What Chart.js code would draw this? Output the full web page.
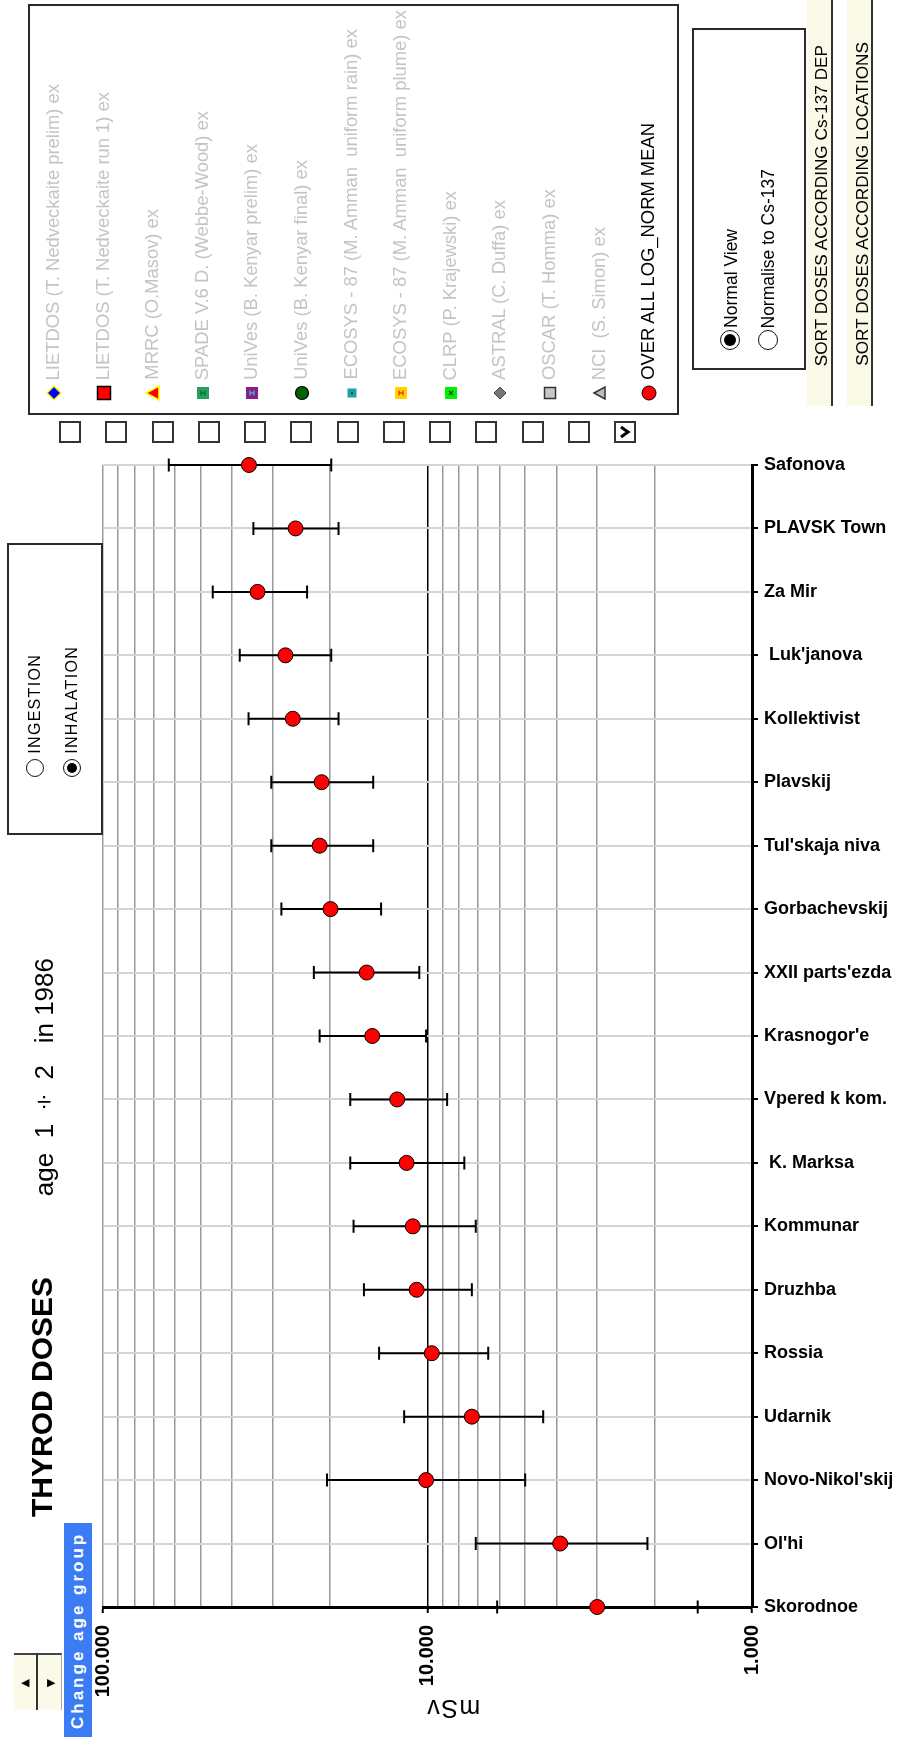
<!DOCTYPE html>
<html>
<head>
<meta charset="utf-8">
<script src="https://cdn.jsdelivr.net/npm/chart.js@4"></script>
<style>
  html, body { margin: 0; padding: 0; background: #fff; }
  #page { position: relative; width: 904px; height: 1742px; overflow: hidden;
          font-family: "Liberation Sans", Arial, sans-serif; }
  #chart { position: absolute; left: 0; top: 0; }
  .up { position: absolute; writing-mode: vertical-rl; transform: rotate(180deg);
        white-space: pre; text-align: start; }
  .box { position: absolute; box-sizing: border-box; border: 2px solid #2a2a2a; }
  .radio { position: absolute; box-sizing: border-box; border: 1.5px solid #111;
           border-radius: 50%; background: #fff; }
  .radio.on::after { content: ""; position: absolute; left: 3px; top: 3px; right: 3px; bottom: 3px;
                     border-radius: 50%; background: #000; }
  .chk { position: absolute; box-sizing: border-box; width: 22px; height: 22px;
         border: 2px solid #333; background: #fff; }
  .btn { position: absolute; top: 0; width: 26px; height: 406px; box-sizing: border-box;
         background: #fbf9e7; border-right: 2px solid #333; }
  .mk { position: absolute; width: 18px; height: 18px; }
</style>
</head>
<body>
<div id="page">
  <canvas id="chart" width="904" height="1742"></canvas>

  <!-- legend box -->
  <div class="box" style="left:28px; top:4px; width:651px; height:411px;"></div>
  <div id="legend"></div>

  <!-- normal view box -->
  <div class="box" style="left:692px; top:28px; width:114px; height:342px;"></div>
  <div class="radio on" style="left:720px; top:330px; width:20px; height:20px;"></div>
  <div class="radio" style="left:758px; top:330px; width:20px; height:20px;"></div>
  <div class="up" style="left:721px; bottom:1414px; font-size:17.5px; line-height:20px;">Normal View</div>
  <div class="up" style="left:758px; bottom:1414px; font-size:17.5px; line-height:20px;">Normalise to Cs-137</div>

  <!-- sort buttons -->
  <div class="btn" style="left:807px;"></div>
  <div class="btn" style="left:847px;"></div>
  <div class="up" style="left:811px; bottom:1376px; font-size:17.2px; line-height:20px;">SORT DOSES ACCORDING Cs-137 DEP</div>
  <div class="up" style="left:852px; bottom:1376px; font-size:17.2px; line-height:20px;">SORT DOSES ACCORDING LOCATIONS</div>

  <!-- ingestion / inhalation box -->
  <div class="box" style="left:7px; top:543px; width:96px; height:292px;"></div>
  <div class="radio" style="left:26px; top:759px; width:18px; height:18px;"></div>
  <div class="radio on" style="left:63px; top:759px; width:18px; height:18px;"></div>
  <div class="up" style="left:26px; bottom:988px; font-size:16px; line-height:18px; letter-spacing:1.3px;">INGESTION</div>
  <div class="up" style="left:63px; bottom:988px; font-size:16px; line-height:18px; letter-spacing:1.3px;">INHALATION</div>

  <!-- titles -->
  <div class="up" style="left:27px; bottom:225px; font-size:30px; line-height:30px; font-weight:bold;">THYROD DOSES</div>
  <div class="up" style="left:31px; bottom:546px; font-size:26px; line-height:26px;">age  1 ÷ 2   in 1986</div>

  <!-- change age group -->
  <div style="position:absolute; left:64px; top:1523px; width:28px; height:214px; background:#3b7cf5;"></div>
  <div class="up" style="left:64px; top:1523px; width:28px; height:214px; line-height:28px; font-size:17px;
       font-weight:bold; color:#fff; letter-spacing:3px; text-align:center;">Change age group</div>

  <!-- spinner -->
  <div style="position:absolute; left:14px; top:1653px; width:48px; height:57px; background:#fbf9e7;
       border-top:2px solid #444; border-right:1px solid #aaa; box-sizing:border-box;"></div>
  <div style="position:absolute; left:36px; top:1653px; width:2px; height:57px; background:#333;"></div>
  <div style="position:absolute; left:21px; top:1672px; font-size:11px; line-height:20px;">&#9664;</div>
  <div style="position:absolute; left:47px; top:1672px; font-size:11px; line-height:20px;">&#9654;</div>

  <!-- value axis title (upside down) -->
  <div style="position:absolute; left:403px; top:1696px; width:100px; text-align:center; font-size:25px;
       line-height:26px; letter-spacing:1.5px; transform:rotate(180deg);">mSv</div>
</div>

<script>
  // categories, top to bottom
  const categories = ["Safonova", "PLAVSK Town", "Za Mir", " Luk'janova", "Kollektivist", "Plavskij",
    "Tul'skaja niva", "Gorbachevskij", "XXII parts'ezda", "Krasnogor'e", "Vpered k kom.", " K. Marksa",
    "Kommunar", "Druzhba", "Rossia", "Udarnik", "Novo-Nikol'skij", "Ol'hi", "Skorodnoe"];

  // OVER ALL LOG_NORM MEAN (mSv) and error bar ends
  const meanDose  = [35.5, 25.5, 33.4, 27.4, 26.0, 21.2, 21.5, 19.9, 15.4, 14.8, 12.4, 11.6, 11.1, 10.8, 9.7, 7.3, 10.1, 3.9, 3.0];
  const upperDose = [62.7, 34.4, 45.9, 37.9, 35.6, 30.3, 30.3, 28.2, 22.4, 21.5, 17.3, 17.3, 16.9, 15.7, 14.1, 11.8, 20.4, 7.1, 6.1];
  const lowerDose = [19.8, 18.8, 23.5, 19.8, 18.8, 14.7, 14.7, 13.9, 10.6, 10.1, 8.7, 7.7, 7.1, 7.3, 6.5, 4.4, 5.0, 2.1, 1.47];

  // log grid and labels
  const gridValues = [1, 2, 3, 4, 5, 6, 7, 8, 9, 10, 20, 30, 40, 50, 60, 70, 80, 90, 100];
  const tickLabels = { 1: "1.000", 10: "10.000", 100: "100.000" };

  const legendNames = [
    "LIETDOS (T. Nedveckaite prelim) ex",
    "LIETDOS (T. Nedveckaite run 1) ex",
    "MRRC (O.Masov) ex",
    "SPADE V.6 D. (Webbe-Wood) ex",
    "UniVes (B. Kenyar prelim) ex",
    "UniVes (B. Kenyar final) ex",
    "ECOSYS - 87 (M. Amman  uniform rain) ex",
    "ECOSYS - 87 (M. Amman  uniform plume) ex",
    "CLRP (P. Krajewski) ex",
    "ASTRAL (C. Duffa) ex",
    "OSCAR (T. Homma) ex",
    "NCI  (S. Simon) ex",
    "OVER ALL LOG_NORM MEAN"
  ];

  const markerSvg = [
    '<polygon points="9,2 16,9 9,16 2,9" fill="#0000ff" stroke="#ffff00" stroke-width="1.5"/>',
    '<rect x="2.5" y="2.5" width="13" height="13" fill="#ff0000" stroke="#000" stroke-width="1.5"/>',
    '<polygon points="2,9 15,2 15,16" fill="#ff0000" stroke="#ffff00" stroke-width="1.6"/>',
    '<rect x="3" y="3" width="12" height="12" fill="#23a05c"/><path d="M7 6.5v5M11 6.5v5M7 9h4" stroke="#0b5a2c" stroke-width="1"/>',
    '<rect x="3" y="3" width="12" height="12" fill="#8a1f8c"/><path d="M7 6.5v5M11 6.5v5M7 9h4" stroke="#30d8e8" stroke-width="1"/>',
    '<circle cx="9" cy="9" r="6.5" fill="#006400" stroke="#000" stroke-width="1.2"/>',
    '<rect x="4.5" y="4.5" width="9" height="9" fill="#1a9fa2"/><rect x="8" y="8" width="2" height="2" fill="#0a4a4a"/>',
    '<rect x="3" y="3" width="12" height="12" fill="#ffd400"/><path d="M7 6.5v5M11 6.5v5M7 9h4" stroke="#ff0000" stroke-width="1"/>',
    '<rect x="3" y="3" width="12" height="12" fill="#00f000"/><path d="M7 7l4 4M11 7l-4 4" stroke="#115511" stroke-width="1.2"/>',
    '<polygon points="9,3 15,9 9,15 3,9" fill="#777" stroke="#444" stroke-width="1"/>',
    '<rect x="3.5" y="3.5" width="11" height="11" fill="#c8c8c8" stroke="#333" stroke-width="1.5"/>',
    '<polygon points="3,9 14,3 14,15" fill="#bdbdbd" stroke="#333" stroke-width="1.5"/>',
    '<circle cx="9" cy="9" r="7" fill="#ff0000" stroke="#000" stroke-width="1"/>'
  ];

  // legend entries and check boxes
  const legend = document.getElementById("legend");
  legendNames.forEach((name, i) => {
    const mx = 54 + i * 49.6;
    const mk = document.createElement("div");
    mk.className = "mk";
    mk.style.left = (mx - 9) + "px";
    mk.style.top = (393 - 9) + "px";
    mk.innerHTML = '<svg width="18" height="18" viewBox="0 0 18 18">' + markerSvg[i] + '</svg>';
    legend.appendChild(mk);

    const t = document.createElement("div");
    t.className = "up";
    t.textContent = name;
    t.style.left = (mx - 11) + "px";
    t.style.bottom = (1742 - 380) + "px";
    t.style.fontSize = "18.4px";
    t.style.lineHeight = "20px";
    t.style.color = i < legendNames.length - 1 ? "#c4c4c4" : "#000";
    legend.appendChild(t);

    const c = document.createElement("div");
    c.className = "chk";
    c.style.left = (59 + i * 46.25) + "px";
    c.style.top = "421px";
    if (i === legendNames.length - 1) {
      c.innerHTML = '<svg width="18" height="18" viewBox="0 0 18 18"><path d="M5 4l7 5-7 5" fill="none" stroke="#000" stroke-width="3"/></svg>';
    }
    legend.appendChild(c);
  });

  Chart.defaults.font.family = '"Liberation Sans", Arial, sans-serif';

  const errorBars = {
    id: "errorBars",
    beforeDatasetsDraw(chart) {
      const { ctx, scales: { x, y } } = chart;
      ctx.save();
      ctx.strokeStyle = "#000";
      ctx.lineWidth = 2;
      categories.forEach((c, i) => {
        const yy = y.getPixelForValue(i);
        const x1 = x.getPixelForValue(upperDose[i]);
        const x2 = x.getPixelForValue(lowerDose[i]);
        ctx.beginPath();
        ctx.moveTo(x1, yy); ctx.lineTo(x2, yy);
        ctx.moveTo(x1, yy - 6.5); ctx.lineTo(x1, yy + 6.5);
        ctx.moveTo(x2, yy - 6.5); ctx.lineTo(x2, yy + 6.5);
        ctx.stroke();
      });
      ctx.restore();
    }
  };

  new Chart(document.getElementById("chart"), {
    type: "line",
    data: {
      labels: categories,
      datasets: [{
        label: "OVER ALL LOG_NORM MEAN",
        data: meanDose,
        showLine: false,
        pointRadius: 7.5,
        pointBackgroundColor: "#ff0000",
        pointBorderColor: "#000",
        pointBorderWidth: 1,
        clip: false
      }]
    },
    options: {
      indexAxis: "y",
      responsive: false,
      animation: false,
      layout: { padding: { left: 103, top: 465, right: 0, bottom: 0 } },
      plugins: {
        legend: { display: false },
        tooltip: { enabled: false }
      },
      scales: {
        x: {
          type: "logarithmic",
          min: 1,
          max: 100,
          reverse: true,
          position: "bottom",
          afterBuildTicks: (s) => {
            s.ticks = gridValues.map(v => ({ value: v, major: !!tickLabels[v] }));
          },
          afterFit: (s) => { s.height = 135; },
          grid: {
            color: (c) => (c.tick && c.tick.value === 10) ? "#000" : "#999",
            lineWidth: 1.5,
            tickLength: 6,
            tickWidth: 2,
            tickColor: (c) => (c.tick && tickLabels[c.tick.value]) ? "#000" : "rgba(0,0,0,0)"
          },
          border: { color: "#000", width: 3 },
          ticks: {
            autoSkip: false,
            minRotation: 90,
            maxRotation: 90,
            padding: 12,
            color: "#000",
            font: { size: 20, weight: "bold" },
            callback: (v) => tickLabels[v] || ""
          }
        },
        y: {
          type: "category",
          position: "right",
          offset: false,
          afterFit: (s) => { s.width = 152; },
          grid: {
            color: "#d4d4d4",
            lineWidth: 2,
            tickLength: 6,
            tickWidth: 2,
            tickColor: "#000"
          },
          border: { color: "#000", width: 3 },
          ticks: {
            autoSkip: false,
            padding: 6,
            color: "#000",
            font: { size: 18, weight: "bold" }
          }
        }
      }
    },
    plugins: [errorBars]
  });
</script>
</body>
</html>
